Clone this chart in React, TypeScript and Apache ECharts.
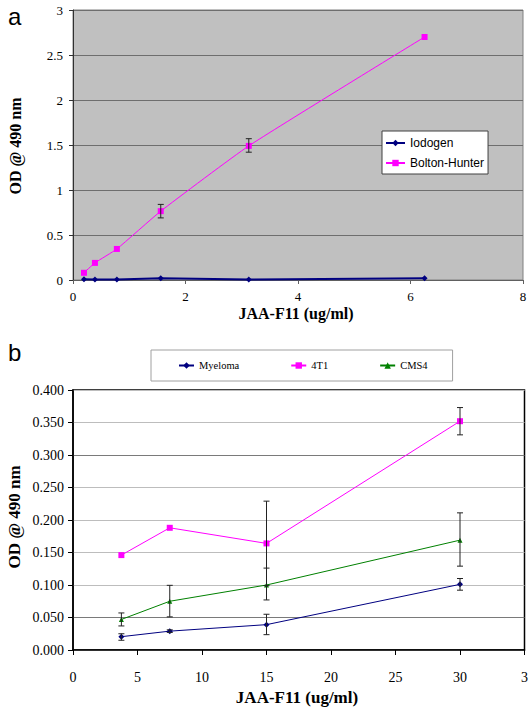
import React, { useEffect, useRef } from "react";
import * as echarts from "echarts";

// ---- Panel a data ----
const concA = [0.195, 0.39, 0.78, 1.56, 3.125, 6.25];
const iodogen = [0.008, 0.006, 0.006, 0.02, 0.006, 0.02];
const boltonHunter = [0.08, 0.19, 0.345, 0.765, 1.49, 2.7];
const bhErrX = [1.56, 3.125];
const bhErrLow = [0.69, 1.42];
const bhErrHigh = [0.84, 1.57];

// ---- Panel b data ----
const concB = [3.75, 7.5, 15, 30];
const myeloma = [0.0205, 0.029, 0.039, 0.101];
const myelomaLow = [0.015, 0.027, 0.0236, 0.092];
const myelomaHigh = [0.025, 0.031, 0.055, 0.11];
const t41 = [0.146, 0.188, 0.164, 0.352];
const t41Low = [0.144, 0.186, 0.099, 0.331];
const t41High = [0.148, 0.19, 0.229, 0.373];
const cms4 = [0.047, 0.075, 0.1, 0.169];
const cms4Low = [0.037, 0.051, 0.077, 0.129];
const cms4High = [0.057, 0.0995, 0.126, 0.211];

const yTicksA = [0, 0.5, 1, 1.5, 2, 2.5, 3];
const xTicksB = [0, 5, 10, 15, 20, 25, 30, 35];

const serif = "Liberation Serif";

function errSeries(xs: number[], lo: number[], hi: number[], gi: number) {
  return {
    type: "custom",
    xAxisIndex: gi,
    yAxisIndex: gi,
    z: 5,
    silent: true,
    data: xs.map((x, i) => [x, lo[i], hi[i]]),
    renderItem: (params: any, api: any) => {
      const x = api.value(0);
      const p1 = api.coord([x, api.value(1)]);
      const p2 = api.coord([x, api.value(2)]);
      const c = 3;
      const st = { stroke: "#222", lineWidth: 1 };
      return {
        type: "group",
        children: [
          { type: "line", shape: { x1: p1[0], y1: p1[1], x2: p2[0], y2: p2[1] }, style: st },
          { type: "line", shape: { x1: p1[0] - c, y1: p1[1], x2: p1[0] + c, y2: p1[1] }, style: st },
          { type: "line", shape: { x1: p2[0] - c, y1: p2[1], x2: p2[0] + c, y2: p2[1] }, style: st },
        ],
      };
    },
  };
}

export default function App() {
  const ref = useRef<HTMLDivElement>(null);
  useEffect(() => {
    const chart = echarts.init(ref.current!, undefined, { renderer: "svg" });
    const option: any = {
      animation: false,
      backgroundColor: "#ffffff",
      textStyle: { fontFamily: serif },
      grid: [
        { left: 73, top: 10, width: 450, height: 270, show: true, backgroundColor: "#c0c0c0", borderColor: "#808080", borderWidth: 1 },
        { left: 73, top: 390, width: 452, height: 260, show: true, backgroundColor: "#ffffff", borderColor: "#000000", borderWidth: 1.5 },
      ],
      xAxis: [
        {
          type: "value", gridIndex: 0, min: 0, max: 8, interval: 2,
          axisLine: { show: true, onZero: false, lineStyle: { color: "#606060" } },
          axisTick: { show: true, length: 4, lineStyle: { color: "#606060" } },
          splitLine: { show: false },
          axisLabel: { color: "#000", fontFamily: serif, fontSize: 13, margin: 10 },
        },
        {
          type: "value", gridIndex: 1, min: 0, max: 35, interval: 5,
          axisLine: { show: true, onZero: false, lineStyle: { color: "#000", width: 1.5 } },
          axisTick: { show: true, length: 5, lineStyle: { color: "#000" } },
          splitLine: { show: false },
          axisLabel: {
            color: "#000", fontFamily: serif, fontSize: 14, margin: 20,
            formatter: (v: number) => (v === xTicksB[xTicksB.length - 1] ? "3" : String(v)),
          },
        },
      ],
      yAxis: [
        {
          type: "value", gridIndex: 0, min: yTicksA[0], max: yTicksA[yTicksA.length - 1], interval: 0.5,
          axisLine: { show: true, lineStyle: { color: "#303030" } },
          axisTick: { show: true, length: 4, lineStyle: { color: "#303030" } },
          splitLine: { show: true, lineStyle: { color: "#6e6e6e", width: 1 } },
          axisLabel: { color: "#000", fontFamily: serif, fontSize: 13, margin: 10 },
        },
        {
          type: "value", gridIndex: 1, min: 0, max: 0.4, interval: 0.05,
          axisLine: { show: true, lineStyle: { color: "#000", width: 1.5 } },
          axisTick: { show: true, length: 5, lineStyle: { color: "#000" } },
          splitLine: { show: true, lineStyle: { color: ["#bdbdbd", "#7a7a7a", "#bdbdbd", "#bdbdbd", "#bdbdbd"], width: 1 } },
          axisLabel: { color: "#000", fontFamily: serif, fontSize: 14, margin: 9, formatter: (v: number) => v.toFixed(3) },
        },
      ],
      legend: [
        {
          data: ["Iodogen", "Bolton-Hunter"],
          orient: "vertical",
          left: 382, top: 131,
          backgroundColor: "#ffffff",
          borderColor: "#404040", borderWidth: 1, borderRadius: 0,
          padding: [6, 4, 5, 3],
          itemWidth: 19, itemHeight: 8, itemGap: 8,
          textStyle: { fontFamily: "Liberation Sans", fontSize: 12, color: "#000" },
        },
        {
          data: ["Myeloma", "4T1", "CMS4"],
          orient: "horizontal",
          left: 151, top: 350,
          backgroundColor: "#ffffff",
          borderColor: "#a0a0a0", borderWidth: 1, borderRadius: 0,
          padding: [10, 25, 10, 27],
          itemWidth: 15, itemHeight: 8, itemGap: 51,
          textStyle: { fontFamily: serif, fontSize: 10.5, color: "#000" },
        },
      ],
      series: [
        {
          name: "Iodogen", type: "line", xAxisIndex: 0, yAxisIndex: 0,
          data: concA.map((x, i) => [x, iodogen[i]]),
          symbol: "diamond", symbolSize: 6, showSymbol: true,
          lineStyle: { color: "#000080", width: 2 }, itemStyle: { color: "#000080" },
          z: 3,
        },
        {
          name: "Bolton-Hunter", type: "line", xAxisIndex: 0, yAxisIndex: 0,
          data: concA.map((x, i) => [x, boltonHunter[i]]),
          symbol: "rect", symbolSize: 6, smooth: 0.15,
          lineStyle: { color: "#ff00ff", width: 1 }, itemStyle: { color: "#ff00ff" },
          z: 4,
        },
        errSeries(bhErrX, bhErrLow, bhErrHigh, 0),
        {
          name: "Myeloma", type: "line", xAxisIndex: 1, yAxisIndex: 1,
          data: concB.map((x, i) => [x, myeloma[i]]),
          symbol: "diamond", symbolSize: 6,
          lineStyle: { color: "#000080", width: 1 }, itemStyle: { color: "#000080" },
        },
        {
          name: "4T1", type: "line", xAxisIndex: 1, yAxisIndex: 1,
          data: concB.map((x, i) => [x, t41[i]]),
          symbol: "rect", symbolSize: 6,
          lineStyle: { color: "#ff00ff", width: 1 }, itemStyle: { color: "#ff00ff" },
        },
        {
          name: "CMS4", type: "line", xAxisIndex: 1, yAxisIndex: 1,
          data: concB.map((x, i) => [x, cms4[i]]),
          symbol: "triangle", symbolSize: 5,
          lineStyle: { color: "#008000", width: 1 }, itemStyle: { color: "#008000" },
        },
        errSeries(concB, myelomaLow, myelomaHigh, 1),
        errSeries(concB.slice(2), t41Low.slice(2), t41High.slice(2), 1),
        errSeries(concB, cms4Low, cms4High, 1),
      ],
      graphic: [
        { type: "text", left: 8, top: 4, style: { text: "a", font: "24px 'Liberation Sans'", fill: "#000" } },
        { type: "text", left: 8, top: 340, style: { text: "b", font: "24px 'Liberation Sans'", fill: "#000" } },
        {
          type: "text", x: 296, y: 313,
          style: { text: "JAA-F11 (ug/ml)", font: "bold 16px 'Liberation Serif'", fill: "#000", align: "center", verticalAlign: "middle" },
        },
        {
          type: "text", x: 297, y: 697,
          style: { text: "JAA-F11 (ug/ml)", font: "bold 17px 'Liberation Serif'", fill: "#000", align: "center", verticalAlign: "middle" },
        },
        {
          type: "text", x: 15, y: 146, rotation: Math.PI / 2,
          style: { text: "OD @ 490 nm", font: "bold 16px 'Liberation Serif'", fill: "#000", align: "center", verticalAlign: "middle" },
        },
        {
          type: "text", x: 14, y: 517, rotation: Math.PI / 2,
          style: { text: "OD @ 490 nm", font: "bold 17px 'Liberation Serif'", fill: "#000", align: "center", verticalAlign: "middle" },
        },
      ],
    };
    chart.setOption(option);
    return () => chart.dispose();
  }, []);
  return (
    <div style={{ position: "fixed", left: 0, top: 0, width: 531, height: 713, background: "#fff" }}>
      <div ref={ref} style={{ width: 531, height: 713 }} />
    </div>
  );
}
